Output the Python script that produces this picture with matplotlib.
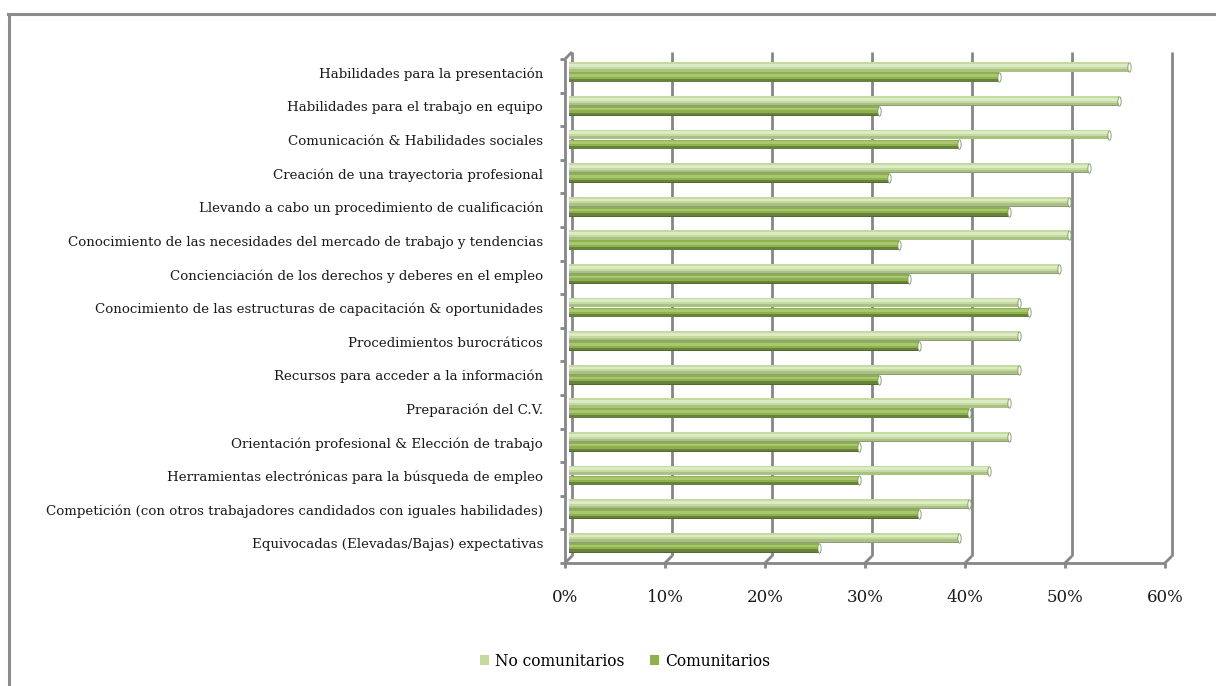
import matplotlib
matplotlib.use("Agg")
import matplotlib.pyplot as plt
from matplotlib.lines import Line2D
from matplotlib.patches import Patch
from matplotlib.path import Path
from matplotlib.transforms import Affine2D
import numpy as np

categories = [
    "Habilidades para la presentación",
    "Habilidades para el trabajo en equipo",
    "Comunicación & Habilidades sociales",
    "Creación de una trayectoria profesional",
    "Llevando a cabo un procedimiento de cualificación",
    "Conocimiento de las necesidades del mercado de trabajo y tendencias",
    "Concienciación de los derechos y deberes en el empleo",
    "Conocimiento de las estructuras de capacitación & oportunidades",
    "Procedimientos burocráticos",
    "Recursos para acceder a la información",
    "Preparación del C.V.",
    "Orientación profesional & Elección de trabajo",
    "Herramientas electrónicas para la búsqueda de empleo",
    "Competición (con otros trabajadores candidados con iguales habilidades)",
    "Equivocadas (Elevadas/Bajas) expectativas",
]
no_comunitarios = [56, 55, 54, 52, 50, 50, 49, 45, 45, 45, 44, 44, 42, 40, 39]
comunitarios = [43, 31, 39, 32, 44, 33, 34, 46, 35, 31, 40, 29, 29, 35, 25]
series_names = ["No comunitarios", "Comunitarios"]
xticks = [0, 10, 20, 30, 40, 50, 60]
xtick_labels = ["0%", "10%", "20%", "30%", "40%", "50%", "60%"]

W, H = 1216, 686
FONT = "DejaVu Serif"
FS = 9.65
GRID = "#868686"

fig = plt.figure(figsize=(W / 100, H / 100), dpi=100)
fig.patch.set_facecolor("white")

# plane of the bars (pixels from top-left)
px0, px1 = 568.5, 1168.5
py_top, py_bot = 55.5, 559.5
ax = fig.add_axes([px0 / W, (H - py_bot) / H, (px1 - px0) / W, (py_bot - py_top) / H])
ax.set_xlim(0, 60)
n = len(categories)
ax.set_ylim(n - 0.5, -0.5)
ax.axis("off")

d = 3.5  # depth offset in pixels
back = ax.transData + Affine2D().translate(d, d)

# back-wall gridlines
for t in xticks:
    ax.plot([t, t], [-0.5, n - 0.5], color=GRID, lw=2.0, transform=back,
            zorder=1, solid_capstyle="butt", clip_on=False)

# bars
y = np.arange(n)
h = 0.29
off = 0.148
styles = [
    dict(main="#c4da9f", hi="#dcebc6", lo="#a9c182", edge="#8e9a80"),
    dict(main="#8eb04f", hi="#a9c76f", lo="#65833a", edge="#55692f"),
]
for vals, sgn, st in [(no_comunitarios, -1, styles[0]), (comunitarios, 1, styles[1])]:
    yc = y + sgn * off
    ax.barh(yc, vals, height=h, color=st["main"], edgecolor="none", zorder=3)
    ax.barh(yc - h * 0.18, vals, height=h * 0.28, color=st["hi"], edgecolor="none", zorder=4)
    ax.barh(yc + h * 0.32, vals, height=h * 0.3, color=st["lo"], edgecolor="none", zorder=4)
    ax.barh(yc + h * 0.47, vals, height=h * 0.07, color=st["edge"], edgecolor="none", zorder=4)
    # end caps
    t = np.linspace(0, 2 * np.pi, 40)
    cap = Path(np.column_stack([0.35 * np.cos(t), np.sin(t)]), closed=True)
    ax.scatter(vals, yc, marker=cap, s=45, facecolor="white", edgecolor="#7f8f6a",
               linewidths=0.6, zorder=5)

fig.canvas.draw()

def to_px(xd, yd, dx=0.0, dy=0.0):
    X, Y = ax.transData.transform((xd, yd))
    return X + dx, Y + dy

def fline(p, q, **kw):
    fig.add_artist(Line2D([p[0], q[0]], [p[1], q[1]], transform=None, **kw))

lkw = dict(color=GRID, lw=2.0, solid_capstyle="butt")

# floor
fl = to_px(0, n - 0.5, -d, -d)
fr = to_px(60, n - 0.5, -d, -d)
fline(fl, fr, **lkw)
for t in xticks:
    a = to_px(t, n - 0.5, -d, -d)
    b = to_px(t, n - 0.5, d, d)
    fline(a, b, **lkw)
    fline(a, (a[0], a[1] - 5), **lkw)

# left axis line (front)
top_f = to_px(0, -0.5, -d, -d)
top_b = to_px(0, -0.5, d, d)
fline(fl, top_f, **lkw)
fline(top_f, top_b, **lkw)
for k in range(n + 1):
    p = to_px(0, k - 0.5, -d, -d)
    fline((p[0] - 5, p[1]), p, **lkw)

# x tick labels
for t, lab in zip(xticks, xtick_labels):
    X, _ = to_px(t, 0, -d, 0)
    fig.text(X / W, 1 - 597 / H, lab, ha="center", va="center",
             fontsize=12, family=FONT, color="#1a1a1a")

# category labels
for i, lab in enumerate(categories):
    _, Y = to_px(0, i)
    fig.text(543 / W, (Y - 2) / H, lab, ha="right", va="center",
             fontsize=FS, family=FONT, color="#1a1a1a")

# outer border
fig.add_artist(Line2D([8.5, 8.5], [0, H - 14], transform=None, color="#8c8c8c", lw=2.2))
fig.add_artist(Line2D([8, W], [H - 14, H - 14], transform=None, color="#8c8c8c", lw=2.2))

# legend
handles = [Patch(facecolor=styles[0]["main"], edgecolor="none"),
           Patch(facecolor=styles[1]["main"], edgecolor="none")]
fig.legend(handles, series_names, loc="center", bbox_to_anchor=(625 / W, 1 - 661 / H),
           ncol=2, frameon=False, handlelength=0.6, handleheight=0.6,
           handletextpad=0.4, columnspacing=1.6,
           prop={"family": FONT, "size": 11.2})

fig.savefig("out.png", dpi=100, facecolor="white")
